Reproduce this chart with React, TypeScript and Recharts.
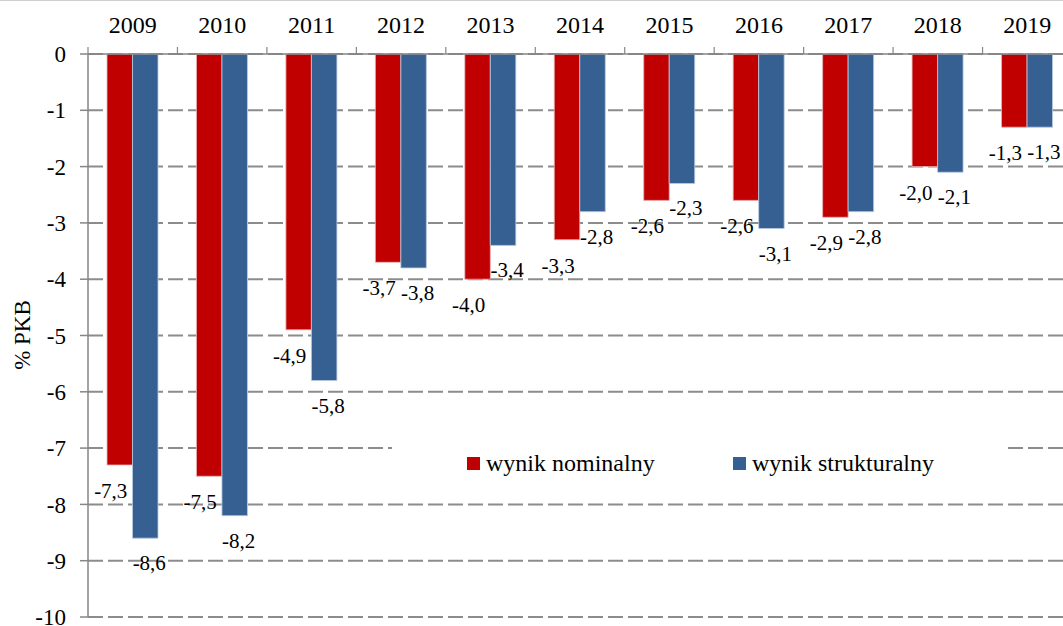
import React from 'react';
import { BarChart, Bar, XAxis, YAxis, CartesianGrid, Legend, LabelList } from 'recharts';

const years = ['2009', '2010', '2011', '2012', '2013', '2014', '2015', '2016', '2017', '2018', '2019'];
const nominal = [-7.3, -7.5, -4.9, -3.7, -4.0, -3.3, -2.6, -2.6, -2.9, -2.0, -1.3];
const structural = [-8.6, -8.2, -5.8, -3.8, -3.4, -2.8, -2.3, -3.1, -2.8, -2.1, -1.3];
const yTicks = [0, -1, -2, -3, -4, -5, -6, -7, -8, -9, -10];

const data = years.map((year, i) => ({ year, nominal: nominal[i], structural: structural[i] }));

const FONT = "Liberation Serif, Tinos, Times New Roman, Times, DejaVu Serif, Noto Serif, serif";
const CHART_W = 1072;
const CHART_H = 626;
const Y_AXIS_W = 88;
const X_AXIS_H = 54;
const BAND = (CHART_W - Y_AXIS_W) / years.length;
const AXIS_COLOR = '#868686';
const GRID_COLOR = '#8c8c8c';
const RED = '#C00000';
const BLUE = '#376092';

const fmt = (v: number) => v.toFixed(1).replace('.', ',');

const XTick = (props: any) => {
  const { x, payload, index } = props;
  const last = index === years.length - 1;
  const axisY = X_AXIS_H;
  return (
    <g>
      <text x={x} y={axisY - 29} textAnchor="middle" dominantBaseline="central" style={{ fontFamily: FONT }} fontSize={24} fill="#000">
        {payload.value}
      </text>
      <line x1={x - BAND / 2} x2={x - BAND / 2} y1={axisY - 7} y2={axisY} stroke={AXIS_COLOR} strokeWidth={1.2} />
      {last && <line x1={x + BAND / 2} x2={x + BAND / 2} y1={axisY - 7} y2={axisY} stroke={AXIS_COLOR} strokeWidth={1.2} />}
    </g>
  );
};

const makeLabel = (dx: number, dy: number) => (props: any) => {
  const { x, y, width, height, value } = props;
  const bottom = Math.max(Number(y), Number(y) + Number(height));
  return (
    <text
      x={Number(x) + Number(width) / 2 + dx}
      y={bottom + dy}
      textAnchor="middle"
      dominantBaseline="central"
      style={{ fontFamily: FONT }}
      fontSize={21}
      fill="#000"
    >
      {fmt(Number(value))}
    </text>
  );
};

const YLabel = () => (
  <text
    x={22}
    y={335}
    transform="rotate(-90 22 335)"
    textAnchor="middle"
    dominantBaseline="central"
    style={{ fontFamily: FONT }}
    fontSize={23}
    fill="#000"
  >
    % PKB
  </text>
);

const renderLegend = (props: any) => {
  const items = props.payload || [];
  const lefts = [75, 341];
  return (
    <div style={{ position: 'relative', width: '100%', height: '100%', background: '#fff' }}>
      {items.map((it: any, i: number) => (
        <div
          key={i}
          style={{
            position: 'absolute',
            left: lefts[i],
            top: 20,
            height: 26,
            display: 'flex',
            alignItems: 'center',
            whiteSpace: 'nowrap',
          }}
        >
          <div style={{ width: 13, height: 13, background: it.color, marginRight: 6 }} />
          <span style={{ fontFamily: FONT, fontSize: 24, lineHeight: '24px', color: '#000' }}>{it.value}</span>
        </div>
      ))}
    </div>
  );
};

export default function App() {
  return (
    <div style={{ position: 'absolute', left: 0, top: 0, width: 1063, height: 626, overflow: 'hidden', background: '#fff', fontFamily: FONT }}>
      <div style={{ position: 'absolute', left: 0, top: 0, width: 1063, height: 1, background: '#cfcfcf', zIndex: 2 }} />
      <BarChart
        width={CHART_W}
        height={CHART_H}
        data={data}
        margin={{ top: 0, right: 0, bottom: 9, left: 0 }}
        barGap={0}
        style={{ fontFamily: FONT }}
      >
        <CartesianGrid vertical={false} stroke={GRID_COLOR} strokeWidth={2} strokeDasharray="15 5" />
        <XAxis
          dataKey="year"
          orientation="top"
          height={X_AXIS_H}
          interval={0}
          tickLine={false}
          axisLine={{ stroke: AXIS_COLOR, strokeWidth: 1.5 }}
          tick={<XTick />}
        />
        <YAxis
          width={Y_AXIS_W}
          domain={[-10, 0]}
          ticks={yTicks}
          interval={0}
          tickSize={8}
          tickMargin={14}
          axisLine={{ stroke: AXIS_COLOR, strokeWidth: 1.5 }}
          tickLine={{ stroke: AXIS_COLOR, strokeWidth: 1.5 }}
          tick={{ fontFamily: FONT, fontSize: 23, fill: '#000' }}
          label={<YLabel />}
        />
        <Legend
          layout="horizontal"
          verticalAlign="middle"
          align="center"
          content={renderLegend}
          wrapperStyle={{ position: 'absolute', left: 392, top: 430, width: 614, height: 60, background: '#fff' }}
        />
        <Bar dataKey="nominal" name="wynik nominalny" fill={RED} stroke="#e9b3b3" strokeWidth={0.8} barSize={25.5} isAnimationActive={false}>
          <LabelList dataKey="nominal" content={makeLabel(-9, 26)} />
        </Bar>
        <Bar dataKey="structural" name="wynik strukturalny" fill={BLUE} stroke="#b9cbe2" strokeWidth={0.8} barSize={25.5} isAnimationActive={false}>
          <LabelList dataKey="structural" content={makeLabel(4, 25)} />
        </Bar>
      </BarChart>
    </div>
  );
}
